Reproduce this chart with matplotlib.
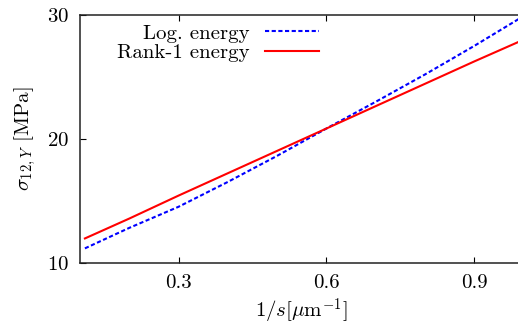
import numpy as np
import matplotlib
matplotlib.use("Agg")
from matplotlib import pyplot as plt

# values
inv_s = [0.11, 0.2, 0.3, 0.4, 0.5, 0.6, 0.7, 0.8, 0.9, 1.0]
log_energy = [11.2, 12.85, 14.55, 16.55, 18.65, 20.85, 23.0, 25.2, 27.5, 29.9]
rank1_energy = [12.0, 13.6, 15.45, 17.25, 19.05, 20.85, 22.65, 24.45, 26.25, 28.0]

x_ticks = [0.3, 0.6, 0.9]
y_ticks = [10, 20, 30]

plt.rcParams['font.family'] = 'serif'
plt.rcParams['font.serif'] = ['cmr10']
plt.rcParams['mathtext.fontset'] = 'cm'
plt.rcParams['axes.formatter.use_mathtext'] = True

fig = plt.figure(figsize=(5.18, 3.32), dpi=100)
ax = fig.add_axes([0.1544, 0.207, 0.856, 0.748])

ax.plot(inv_s, log_energy, color='#0000ff', lw=1.5, dashes=(2, 1.2),
        label='Log. energy')
ax.plot(inv_s, rank1_energy, color='#ff0000', lw=1.5, label='Rank-1 energy')

ax.set_xlim(0.1, 1.0)
ax.set_ylim(10, 30)
ax.set_xticks(x_ticks)
ax.set_xticklabels(['0.3', '0.6', '0.9'])
ax.set_yticks(y_ticks)
ax.tick_params(direction='in', length=4, width=0.8, labelsize=15,
               top=True, right=False, pad=8)
for sp in ax.spines.values():
    sp.set_linewidth(1.1)
    sp.set_color('#222222')

ax.set_xlabel(r'$1/s[\mu\mathrm{m}^{-1}]$', fontsize=15, labelpad=3)
ax.set_ylabel(r'$\sigma_{12,Y}$ [MPa]', fontsize=15, labelpad=6)

ax.legend(loc='upper right', bbox_to_anchor=(0.572, 1.022), frameon=False,
          markerfirst=False, fontsize=15, handlelength=2.6,
          handletextpad=0.75, labelspacing=0.05, borderpad=0.2)

fig.savefig('out.png', dpi=100)
